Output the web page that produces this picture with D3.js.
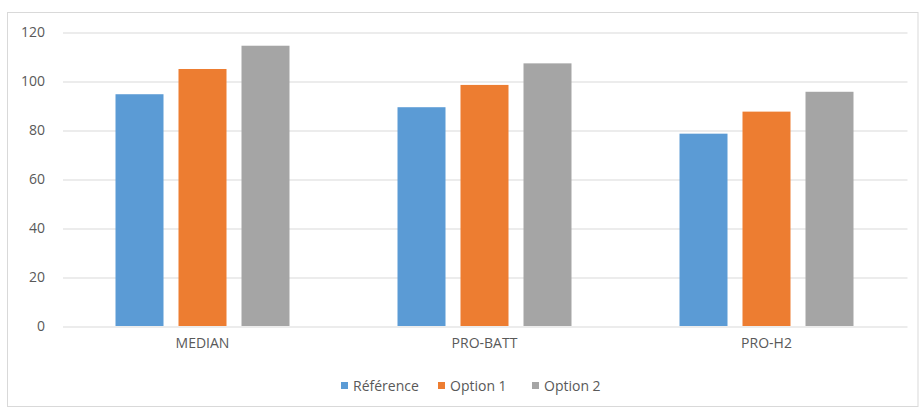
<!DOCTYPE html>
<html>
<head>
<meta charset="utf-8">
<script src="https://cdn.jsdelivr.net/npm/d3@7"></script>
<style>
  html, body { margin: 0; padding: 0; background: #ffffff; }
  svg { display: block; }
  text { font-family: "Open Sans", "DejaVu Sans", sans-serif; fill: #595959; }
</style>
</head>
<body>
<svg id="chart" width="919" height="408"></svg>
<script>
const categories = ["MEDIAN", "PRO-BATT", "PRO-H2"];
const seriesNames = ["Référence", "Option 1", "Option 2"];
const reference = [94.6, 89.3, 78.5];
const option1 = [104.9, 98.4, 87.5];
const option2 = [114.4, 107.2, 95.6];
const yTicks = [0, 20, 40, 60, 80, 100, 120];
const colors = ["#5B9BD5", "#ED7D31", "#A5A5A5"];

const seriesValues = [reference, option1, option2];
const data = categories.map((c, i) => ({
  category: c,
  values: seriesNames.map((s, j) => ({ series: s, value: seriesValues[j][i], idx: j }))
}));

const svg = d3.select("#chart");
const W = 919, H = 408;
const plot = { left: 61.5, right: 907.5, top: 32, bottom: 326 };

// chart border
svg.append("rect")
  .attr("x", 7.5).attr("y", 12.5)
  .attr("width", W - 8.5).attr("height", H - 14)
  .attr("fill", "#ffffff").attr("stroke", "#d9d9d9").attr("stroke-width", 1);

const y = d3.scaleLinear().domain([0, 120]).range([plot.bottom, plot.top]);
const x0 = d3.scaleBand().domain(categories).range([plot.left, plot.right])
  .paddingInner(0.383).paddingOuter(0.1915);
const x1 = d3.scaleBand().domain(seriesNames).range([0, x0.bandwidth()])
  .paddingInner(15 / 63).paddingOuter(0);

// gridlines
const yAxis = d3.axisLeft(y).tickValues(yTicks).tickSize(-(plot.right - plot.left - 1.5)).tickPadding(18);
const gy = svg.append("g").attr("transform", `translate(${plot.left + 1.5},0)`).call(yAxis);
gy.select(".domain").remove();
gy.selectAll(".tick line").attr("stroke", "#d9d9d9").attr("stroke-width", 1)
  .attr("transform", "translate(0,0.5)");
gy.selectAll(".tick text")
  .attr("x", 45 - (plot.left + 1.5))
  .attr("text-anchor", "end")
  .style("font-size", "14px")
  .style("font-family", "'Open Sans', 'DejaVu Sans', sans-serif")
  .attr("fill", "#595959");

// bars
const groups = svg.append("g").selectAll("g").data(data).join("g")
  .attr("transform", d => `translate(${x0(d.category)},0)`);
groups.selectAll("rect").data(d => d.values).join("rect")
  .attr("x", d => x1(d.series))
  .attr("width", x1.bandwidth())
  .attr("y", d => y(d.value))
  .attr("height", d => y(0) - y(d.value))
  .attr("fill", d => colors[d.idx]);

// x axis
const xAxisScale = d3.scaleBand().domain(categories).range([plot.left, plot.right]);
const xAxis = d3.axisBottom(xAxisScale).tickSize(0).tickPadding(12);
const gx = svg.append("g").attr("transform", `translate(0,${plot.bottom})`).call(xAxis);
gx.select(".domain").remove();
gx.selectAll(".tick text")
  .style("font-size", "14px")
  .style("font-family", "'Open Sans', 'DejaVu Sans', sans-serif")
  .attr("fill", "#595959");

// legend
const legendX = [341, 438, 532];
const legend = svg.append("g").selectAll("g").data(seriesNames).join("g")
  .attr("transform", (d, i) => `translate(${legendX[i]},382)`);
legend.append("rect").attr("width", 7).attr("height", 7).attr("fill", (d, i) => colors[i]);
legend.append("text").attr("x", 12).attr("y", 8.5)
  .style("font-size", "14px").text(d => d);
</script>
</body>
</html>
